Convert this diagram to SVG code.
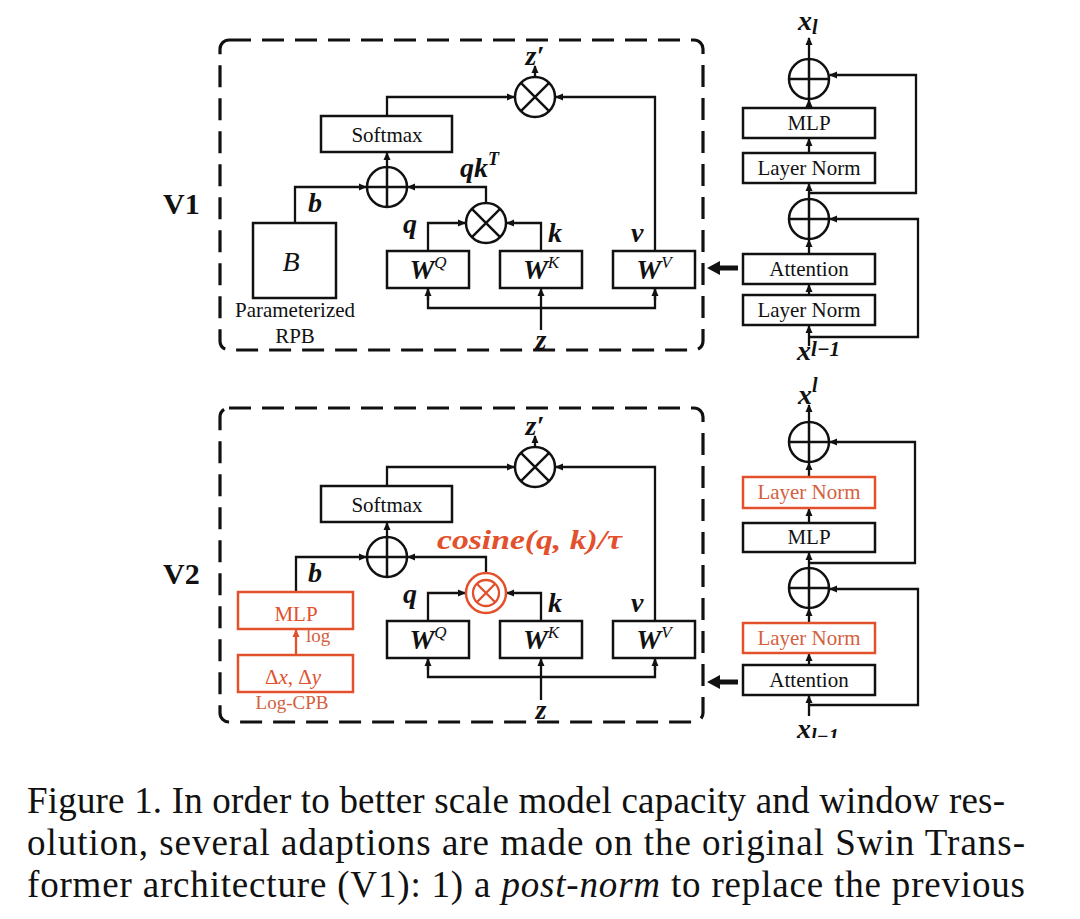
<svg xmlns="http://www.w3.org/2000/svg" width="1080" height="919" viewBox="0 0 1080 919">
<style>
text{font-family:"Liberation Serif","Times New Roman",serif;fill:#111}
.box{fill:#fff;stroke:#111;stroke-width:2.5}
.rbox{fill:#fff;stroke:#e2502c;stroke-width:2.5}
.op{fill:#fff;stroke:#111;stroke-width:2.5}
.opr{fill:#fff;stroke:#e2502c;stroke-width:2.5}
.sym{stroke:#111;stroke-width:2.5;fill:none}
.symr{stroke:#e2502c;stroke-width:2.3;fill:none}
.dash{fill:none;stroke:#111;stroke-width:3.2;stroke-dasharray:22 11}
.c{fill:none;stroke:#111;stroke-width:2.3}
.cr{fill:none;stroke:#e2502c;stroke-width:2.3}
.lbl{font-size:21px;text-anchor:middle}
.m{font-weight:bold;font-style:italic;font-size:28px}
.red{fill:#e2502c}
.lred{fill:#d4613e}
.big{font-weight:bold;font-size:30px}
.cap{font-size:37px}
</style>
<defs>
<marker id="a" markerUnits="userSpaceOnUse" markerWidth="8" markerHeight="8" refX="7" refY="4" orient="auto"><path d="M0,0.5 L8,4 L0,7.5 z" fill="#111"/></marker>
<marker id="ar" markerUnits="userSpaceOnUse" markerWidth="8" markerHeight="8" refX="7" refY="4" orient="auto"><path d="M0,0.5 L8,4 L0,7.5 z" fill="#e2502c"/></marker>
<clipPath id="clipBottom"><rect x="0" y="0" width="1080" height="738"/></clipPath>
</defs>

<!-- ===== V1 ===== -->
<g id="v1-frame"><rect class="dash" x="220" y="40" width="483" height="310" rx="9"/></g>
<text class="big" x="163" y="214">V1</text>

<g id="connectors-v1">
<polyline class="c" points="387,116 387,97 514,97" marker-end="url(#a)"/>
<line class="c" x1="535" y1="77" x2="535" y2="66" marker-end="url(#a)"/>
<line class="c" x1="387" y1="167" x2="387" y2="153" marker-end="url(#a)"/>
<polyline class="c" points="295,223 295,187 366,187" marker-end="url(#a)"/>
<polyline class="c" points="486,203 486,187 408,187" marker-end="url(#a)"/>
<polyline class="c" points="428,251 428,223 465,223" marker-end="url(#a)"/>
<polyline class="c" points="541,251 541,223 507,223" marker-end="url(#a)"/>
<polyline class="c" points="655,251 655,97 556,97" marker-end="url(#a)"/>
<line class="c" x1="541" y1="330" x2="541" y2="289" marker-end="url(#a)"/>
<polyline class="c" points="428,289 428,308 655,308 655,289"/>
<line class="c" x1="428" y1="300" x2="428" y2="289" marker-end="url(#a)"/>
<line class="c" x1="655" y1="300" x2="655" y2="289" marker-end="url(#a)"/>
<!-- right block -->
<line class="c" x1="809" y1="59" x2="809" y2="38" marker-end="url(#a)"/>
<line class="c" x1="809" y1="108" x2="809" y2="100" marker-end="url(#a)"/>
<line class="c" x1="809" y1="153" x2="809" y2="139" marker-end="url(#a)"/>
<line class="c" x1="809" y1="199" x2="809" y2="184" marker-end="url(#a)"/>
<line class="c" x1="809" y1="254" x2="809" y2="240" marker-end="url(#a)"/>
<line class="c" x1="809" y1="295" x2="809" y2="285" marker-end="url(#a)"/>
<line class="c" x1="809" y1="346" x2="809" y2="326" marker-end="url(#a)"/>
<polyline class="c" points="809,193 916,193 916,75 830,75" marker-end="url(#a)"/>
<polyline class="c" points="809,337 918,337 918,219 830,219" marker-end="url(#a)"/>
<line stroke="#111" stroke-width="5" x1="738" y1="268" x2="718" y2="268"/>
<polygon points="707,268 720,261 720,275" fill="#111"/>
</g>

<g id="v1-mult-out"><circle class="op" cx="535" cy="97" r="20"/><path class="sym" d="M520.9,82.9 L549.1,111.1 M549.1,82.9 L520.9,111.1"/></g>
<g id="v1-softmax"><rect class="box" x="321" y="116" width="131" height="36"/><text class="lbl" x="387" y="142">Softmax</text></g>
<g id="v1-add"><circle class="op" cx="387" cy="187" r="20"/><path class="sym" d="M367,187 H407 M387,167 V207"/></g>
<g id="v1-mult-qk"><circle class="op" cx="486" cy="223" r="20"/><path class="sym" d="M471.9,208.9 L500.1,237.1 M500.1,208.9 L471.9,237.1"/></g>
<g id="v1-B"><rect class="box" x="253" y="223" width="83" height="75"/><text x="291" y="271" font-size="28" font-style="italic" text-anchor="middle">B</text>
<text class="lbl" x="295" y="317" font-size="19">Parameterized</text><text class="lbl" x="295" y="343" font-size="19">RPB</text></g>
<g id="v1-WQ"><rect class="box" x="387" y="251" width="82" height="37"/><text x="428" y="279" text-anchor="middle"><tspan class="m">W</tspan><tspan font-style="italic" font-size="17" dy="-11">Q</tspan></text></g>
<g id="v1-WK"><rect class="box" x="500" y="251" width="82" height="37"/><text x="541" y="279" text-anchor="middle"><tspan class="m">W</tspan><tspan font-style="italic" font-size="17" dy="-11">K</tspan></text></g>
<g id="v1-WV"><rect class="box" x="613" y="251" width="82" height="37"/><text x="654" y="279" text-anchor="middle"><tspan class="m">W</tspan><tspan font-style="italic" font-size="17" dy="-11">V</tspan></text></g>
<g id="v1-labels">
<text class="m" x="535" y="65" text-anchor="middle">z′</text>
<text class="m" x="460" y="177">qk<tspan font-size="18" dy="-12">T</tspan></text>
<text class="m" x="308" y="212">b</text>
<text class="m" x="403" y="233">q</text>
<text class="m" x="548" y="242">k</text>
<text class="m" x="631" y="242">v</text>
<text class="m" x="541" y="349" text-anchor="middle">z</text>
</g>
<g id="v1-add-top"><circle class="op" cx="809" cy="79" r="20"/><path class="sym" d="M789,79 H829 M809,59 V99"/></g>
<g id="v1-mlp"><rect class="box" x="743" y="108" width="132" height="30"/><text class="lbl" x="809" y="130" font-size="19">MLP</text></g>
<g id="v1-ln2"><rect class="box" x="743" y="153" width="132" height="30"/><text class="lbl" x="809" y="175" font-size="19">Layer Norm</text></g>
<g id="v1-add-mid"><circle class="op" cx="809" cy="219" r="20"/><path class="sym" d="M789,219 H829 M809,199 V239"/></g>
<g id="v1-attn"><rect class="box" x="743" y="254" width="132" height="30"/><text class="lbl" x="809" y="276" font-size="19">Attention</text></g>
<g id="v1-ln1"><rect class="box" x="743" y="295" width="132" height="30"/><text class="lbl" x="809" y="317" font-size="19">Layer Norm</text></g>
<text class="m" x="798" y="30">x<tspan font-size="20" dy="4">l</tspan></text>
<text class="m" x="797" y="360">x<tspan font-size="21" dy="-4">l−1</tspan></text>

<!-- ===== V2 ===== -->
<g id="v2-frame"><rect class="dash" x="220" y="408" width="483" height="314" rx="9"/></g>
<text class="big" x="163" y="584">V2</text>

<g id="connectors-v2">
<polyline class="c" points="387,486 387,467 514,467" marker-end="url(#a)"/>
<line class="c" x1="535" y1="447" x2="535" y2="436" marker-end="url(#a)"/>
<line class="c" x1="387" y1="537" x2="387" y2="523" marker-end="url(#a)"/>
<polyline class="c" points="296,592 296,557 366,557" marker-end="url(#a)"/>
<polyline class="c" points="486,573 486,557 408,557" marker-end="url(#a)"/>
<polyline class="c" points="428,621 428,593 465,593" marker-end="url(#a)"/>
<polyline class="c" points="541,621 541,593 507,593" marker-end="url(#a)"/>
<polyline class="c" points="655,621 655,467 556,467" marker-end="url(#a)"/>
<line class="c" x1="541" y1="700" x2="541" y2="659" marker-end="url(#a)"/>
<polyline class="c" points="428,659 428,677 655,677 655,659"/>
<line class="c" x1="428" y1="670" x2="428" y2="659" marker-end="url(#a)"/>
<line class="c" x1="655" y1="670" x2="655" y2="659" marker-end="url(#a)"/>
<line class="cr" x1="296" y1="655" x2="296" y2="630" marker-end="url(#ar)"/>
<!-- right block -->
<line class="c" x1="809" y1="422" x2="809" y2="405" marker-end="url(#a)"/>
<line class="c" x1="809" y1="477" x2="809" y2="463" marker-end="url(#a)"/>
<line class="c" x1="809" y1="523" x2="809" y2="509" marker-end="url(#a)"/>
<line class="c" x1="809" y1="568" x2="809" y2="553" marker-end="url(#a)"/>
<line class="c" x1="809" y1="623" x2="809" y2="609" marker-end="url(#a)"/>
<line class="c" x1="809" y1="665" x2="809" y2="654" marker-end="url(#a)"/>
<line class="c" x1="809" y1="716" x2="809" y2="696" marker-end="url(#a)"/>
<polyline class="c" points="809,563 915,563 915,442 830,442" marker-end="url(#a)"/>
<polyline class="c" points="809,705 918,705 918,589 830,589" marker-end="url(#a)"/>
<line stroke="#111" stroke-width="5" x1="738" y1="682" x2="718" y2="682"/>
<polygon points="707,682 720,675 720,689" fill="#111"/>
</g>

<g id="v2-mult-out"><circle class="op" cx="535" cy="467" r="20"/><path class="sym" d="M520.9,452.9 L549.1,481.1 M549.1,452.9 L520.9,481.1"/></g>
<g id="v2-softmax"><rect class="box" x="321" y="486" width="131" height="36"/><text class="lbl" x="387" y="512">Softmax</text></g>
<g id="v2-add"><circle class="op" cx="387" cy="557" r="20"/><path class="sym" d="M367,557 H407 M387,537 V577"/></g>
<g id="v2-cosine"><circle class="opr" cx="486" cy="593" r="20"/><circle class="symr" cx="486" cy="593" r="13"/><path class="symr" d="M476.8,583.8 L495.2,602.2 M495.2,583.8 L476.8,602.2"/></g>
<g id="v2-mlp-cpb"><rect class="rbox" x="238" y="592" width="115" height="37"/><text class="lbl red" x="296" y="621" font-size="28">MLP</text></g>
<g id="v2-dxdy"><rect class="rbox" x="238" y="655" width="115" height="37"/><text class="lbl red" x="293" y="684" font-size="30">Δ<tspan font-style="italic">x</tspan>, Δ<tspan font-style="italic">y</tspan></text></g>
<text class="lred" x="306" y="642" font-size="19">log</text>
<text class="lred" x="292" y="709" font-size="19" text-anchor="middle">Log-CPB</text>
<g id="v2-WQ"><rect class="box" x="387" y="621" width="82" height="37"/><text x="428" y="649" text-anchor="middle"><tspan class="m">W</tspan><tspan font-style="italic" font-size="17" dy="-11">Q</tspan></text></g>
<g id="v2-WK"><rect class="box" x="500" y="621" width="82" height="37"/><text x="541" y="649" text-anchor="middle"><tspan class="m">W</tspan><tspan font-style="italic" font-size="17" dy="-11">K</tspan></text></g>
<g id="v2-WV"><rect class="box" x="613" y="621" width="82" height="37"/><text x="654" y="649" text-anchor="middle"><tspan class="m">W</tspan><tspan font-style="italic" font-size="17" dy="-11">V</tspan></text></g>
<g id="v2-labels">
<text class="m" x="535" y="435" text-anchor="middle">z′</text>
<text class="m red" x="437" y="549" font-size="27" textLength="185" lengthAdjust="spacingAndGlyphs">cosine(q, k)/τ</text>
<text class="m" x="308" y="582">b</text>
<text class="m" x="403" y="603">q</text>
<text class="m" x="548" y="612">k</text>
<text class="m" x="631" y="612">v</text>
<text class="m" x="541" y="719" text-anchor="middle">z</text>
</g>
<g id="v2-add-top"><circle class="op" cx="809" cy="442" r="20"/><path class="sym" d="M789,442 H829 M809,422 V462"/></g>
<g id="v2-ln2"><rect class="rbox" x="743" y="477" width="132" height="31"/><text class="lbl lred" x="809" y="499" font-size="19">Layer Norm</text></g>
<g id="v2-mlp"><rect class="box" x="743" y="523" width="132" height="29"/><text class="lbl" x="809" y="544" font-size="19">MLP</text></g>
<g id="v2-add-mid"><circle class="op" cx="809" cy="588" r="20"/><path class="sym" d="M789,588 H829 M809,568 V608"/></g>
<g id="v2-ln1"><rect class="rbox" x="743" y="623" width="132" height="30"/><text class="lbl lred" x="809" y="645" font-size="19">Layer Norm</text></g>
<g id="v2-attn"><rect class="box" x="743" y="665" width="132" height="30"/><text class="lbl" x="809" y="687" font-size="19">Attention</text></g>
<text class="m" x="798" y="404">x<tspan font-size="20" dy="-12">l</tspan></text>
<g clip-path="url(#clipBottom)"><text class="m" x="797" y="738">x<tspan font-size="20" dy="5">l−1</tspan></text></g>

<!-- caption -->
<g id="caption">
<text class="cap" x="27" y="813" textLength="978" lengthAdjust="spacing">Figure 1. In order to better scale model capacity and window res-</text>
<text class="cap" x="27" y="855" textLength="998" lengthAdjust="spacing">olution, several adaptions are made on the original Swin Trans-</text>
<text class="cap" x="27" y="897" textLength="998" lengthAdjust="spacing">former architecture (V1): 1) a <tspan font-style="italic">post-norm</tspan> to replace the previous</text>
</g>
</svg>
